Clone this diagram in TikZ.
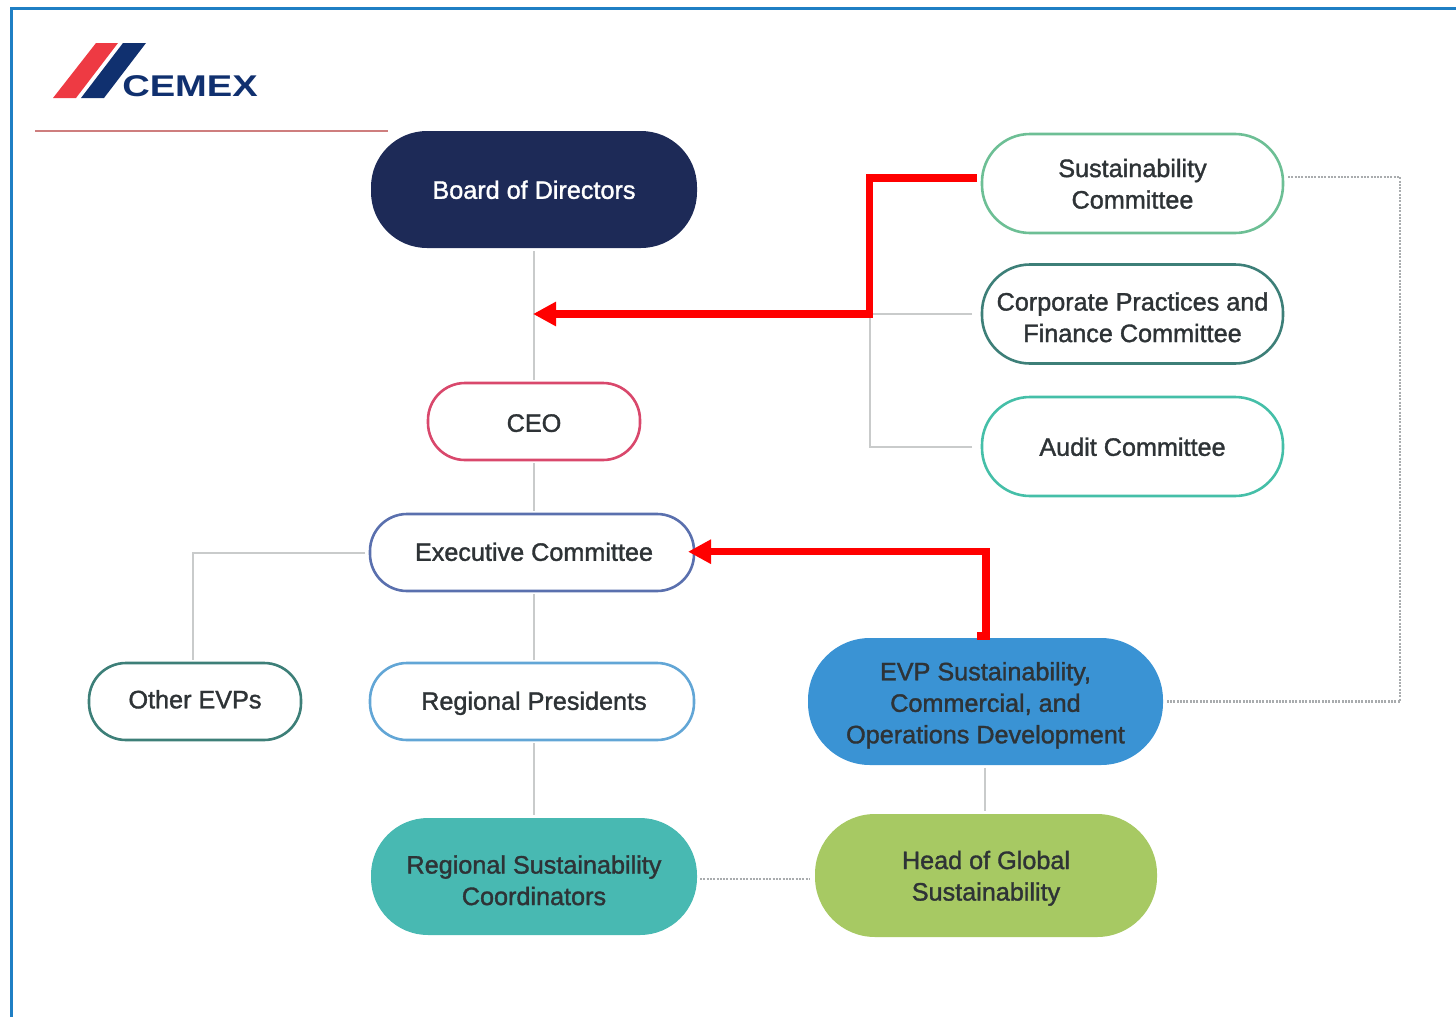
\documentclass[tikz,border=0pt]{standalone}
\usepackage{fontspec}
\setmainfont[FakeBold=1.4]{Liberation Sans}
\newfontfamily\logofont{Liberation Sans Bold}
\usetikzlibrary{arrows.meta}
\definecolor{navy}{HTML}{1D2A57}
\definecolor{logonavy}{HTML}{10306F}
\definecolor{logored}{HTML}{EE3A43}
\definecolor{frameblue}{HTML}{1F7FC4}
\definecolor{txt}{HTML}{2E3336}
\definecolor{conn}{HTML}{C9CBCB}
\definecolor{dots}{HTML}{A9ACAE}
\definecolor{cGreen}{HTML}{6DBF95}
\definecolor{cDeep}{HTML}{3D7F78}
\definecolor{cAqua}{HTML}{45BFA8}
\definecolor{cRose}{HTML}{D9486C}
\definecolor{cIndigo}{HTML}{5A70AE}
\definecolor{cSky}{HTML}{62A6D6}
\definecolor{fBlue}{HTML}{3A93D4}
\definecolor{fTeal}{HTML}{48B9B2}
\definecolor{fLime}{HTML}{A7C963}
\tikzset{
  x=1pt,y=-1pt,
  pill/.style={rectangle,draw=#1,line width=2.6pt,fill=white,text=txt,align=center,
    font=\fontsize{25.2}{31.5}\selectfont,outer sep=3pt,inner sep=0pt},
  solidpill/.style={rectangle,fill=#1,text=txt,align=center,
    font=\fontsize{25.2}{31.5}\selectfont,outer sep=3pt,inner sep=0pt},
  link/.style={draw=conn,line width=2pt},
  dotlink/.style={draw=dots,line width=2.6pt,dash pattern=on 2pt off 1.3pt},
  redlink/.style={draw=red,line width=7.3pt,miter limit=10,-{Triangle[length=23pt,width=23pt]}},
}
% text shifted right by #1/2 and vertically by #2
\newcommand{\tx}[3]{\hspace*{#1}\raisebox{#2}[\height][\depth]{\begin{tabular}{@{}c@{}}#3\end{tabular}}}
\begin{document}
\begin{tikzpicture}
\useasboundingbox (0,0) rectangle (1456,1017);
% frame
\draw[frameblue,line width=2.3pt] (11.5,1017) -- (11.5,8.5) -- (1456,8.5);
% logo
\fill[logored] (53,98) -- (96,43) -- (118,43) -- (76,98) -- cycle;
\fill[logonavy] (81,98) -- (123,43) -- (146,43) -- (104,98) -- cycle;
\node[inner sep=0pt,text=logonavy,xscale=1.27] (logotext) at (190,86)
  {\logofont\fontsize{30}{30}\selectfont CEMEX};
\draw[draw=red!45!gray!70,line width=1.4pt] (35,131) -- (388,131);
% nodes
\node[solidpill=navy,text=white,minimum width=326pt,minimum height=117pt,rounded corners=56pt] (board) at (534,189.5) {\tx{0pt}{-3pt}{Board of Directors}};
\node[pill=cGreen,minimum width=301pt,minimum height=99pt,rounded corners=48pt] (sust) at (1132.5,183.5) {\tx{0pt}{-3pt}{Sustainability\\Committee}};
\node[pill=cDeep,minimum width=301pt,minimum height=99pt,rounded corners=48pt] (corp) at (1132.5,314) {\tx{0pt}{-6pt}{Corporate Practices and\\Finance Committee}};
\node[pill=cAqua,minimum width=301pt,minimum height=99pt,rounded corners=48pt] (audit) at (1132.5,446.5) {\tx{0pt}{-3pt}{Audit Committee}};
\node[pill=cRose,minimum width=212pt,minimum height=77pt,rounded corners=37pt] (ceo) at (534,421.5) {\tx{0pt}{-4pt}{CEO}};
\node[pill=cIndigo,minimum width=324pt,minimum height=77pt,rounded corners=37pt] (exec) at (532,552.5) {\tx{4pt}{-2pt}{Executive Committee}};
\node[pill=cDeep,minimum width=212pt,minimum height=77pt,rounded corners=37pt] (other) at (195,701.5) {\tx{0pt}{-0.5pt}{Other EVPs}};
\node[pill=cSky,minimum width=324pt,minimum height=77pt,rounded corners=37pt] (regp) at (532,701.5) {\tx{4pt}{-2pt}{Regional Presidents}};
\node[solidpill=fBlue,minimum width=355pt,minimum height=127pt,rounded corners=62pt] (evp) at (985.5,701.5) {\tx{0pt}{-4pt}{EVP Sustainability,\\Commercial, and\\Operations Development}};
\node[solidpill=fTeal,minimum width=326pt,minimum height=117pt,rounded corners=57pt] (rsc) at (534,876.5) {\tx{0pt}{-6.5pt}{Regional Sustainability\\Coordinators}};
\node[solidpill=fLime,minimum width=342pt,minimum height=123pt,rounded corners=60pt] (head) at (986,875.5) {\tx{0pt}{-3pt}{Head of Global\\Sustainability}};
% junctions
\coordinate (jmain) at (533,314);
\coordinate (jright) at (869.5,314);
\coordinate (jaudit) at (869.5,446.5);
\coordinate (jother) at (193,552.5);
\coordinate (jsust) at (869.5,178);
\coordinate (jstub) at (977,636);
\coordinate (jcorner) at (986,636);
\coordinate (jred) at (986,551.7);
\coordinate (jtip) at (688,551.7);
\coordinate (jd1) at (1400,177);
\coordinate (jd2) at (1400,701.5);
% plain links
\draw[link] (board.south) -- (ceo.north);
\draw[link] (ceo.south) -- (ceo.south |- exec.north);
\draw[link] (ceo.south |- exec.south) -- (ceo.south |- regp.north);
\draw[link] (ceo.south |- regp.south) -- (rsc.north);
\draw[link,shorten <=2pt] (exec.west) -- (jother) -- (jother |- other.north);
\draw[link,shorten <=7pt] (corp.west) -- (jright);
\draw[link,shorten <=7pt] (audit.west) -- (jaudit) -- (jright);
\draw[link] (984.5,0 |- evp.south) -- (984.5,0 |- head.north);
% dotted links
\draw[dotlink,shorten <=2pt] (sust.east |- jd1) -- (jd1) -- (jd2) -- (evp.east);
\draw[dotlink,shorten >=2pt] (rsc.east |- 0,879) -- (head.west |- 0,879);
% red links
\draw[redlink,shorten <=2pt] (sust.west |- jsust) -- (jsust) -- (jright) -- (jmain);
\draw[redlink] (jstub) -- (jcorner) -- (jred) -- (jtip);
\end{tikzpicture}
\end{document}
